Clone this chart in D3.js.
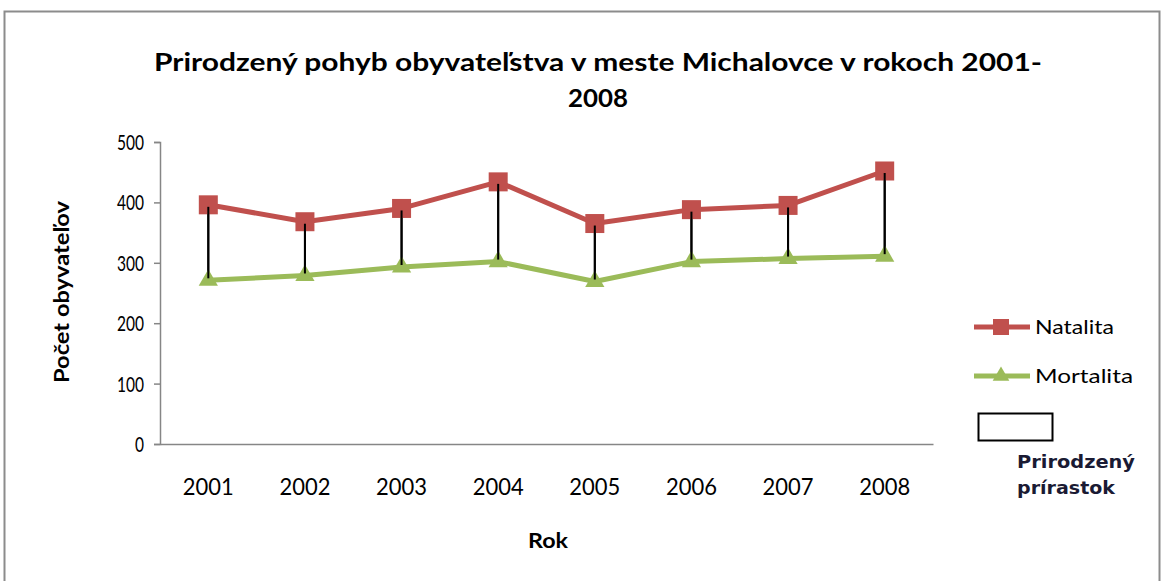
<!DOCTYPE html>
<html>
<head>
<meta charset="utf-8">
<script src="https://cdn.jsdelivr.net/npm/d3@7"></script>
<style>
  html, body { margin: 0; padding: 0; background: #fff; }
  svg { display: block; }
</style>
</head>
<body>
<svg id="chart" width="1162" height="581"></svg>
<script>
// Data
const years = ["2001", "2002", "2003", "2004", "2005", "2006", "2007", "2008"];
const natalita = [396, 368, 390, 434, 365, 388, 395, 452];
const mortalita = [271, 279, 293, 302, 269, 302, 307, 311];
const yTicks = [0, 100, 200, 300, 400, 500];

const titleLines = ["Prirodzený pohyb obyvateľstva v meste Michalovce v rokoch 2001-", "2008"];
const xTitle = "Rok";
const yTitle = "Počet obyvateľov";
const seriesNames = ["Natalita", "Mortalita"];
const diffLabel = ["Prirodzený", "prírastok"];

const red = "#C0504D", green = "#9BBB59";
const font = "Lato, 'Open Sans', sans-serif";
const boldFont = "'DejaVu Sans', Verdana, sans-serif";

const svg = d3.select("#chart");

// outer chart frame
svg.append("rect").attr("x", 4.5).attr("y", 11.5).attr("width", 1155).attr("height", 580)
  .attr("fill", "#fff").attr("stroke", "#8c8c8c").attr("stroke-width", 2);

const plot = { left: 160, right: 933, top: 142, bottom: 444 };

const x = d3.scaleBand().domain(years).range([plot.left, plot.right]);
const y = d3.scaleLinear().domain([0, 500]).range([plot.bottom, plot.top]);
const cx = d => x(d) + x.bandwidth() / 2;

// title
svg.append("text").attr("x", 598).attr("y", 71).attr("text-anchor", "middle")
  .attr("font-family", font).attr("font-weight", "bold").attr("font-size", 25)
  .attr("textLength", 888).attr("lengthAdjust", "spacingAndGlyphs")
  .attr("fill", "#000").text(titleLines[0]);
svg.append("text").attr("x", 598).attr("y", 107).attr("text-anchor", "middle")
  .attr("font-family", font).attr("font-weight", "bold").attr("font-size", 25)
  .attr("textLength", 60).attr("lengthAdjust", "spacingAndGlyphs")
  .attr("fill", "#000").text(titleLines[1]);

// y axis
const yAxis = svg.append("g").attr("transform", `translate(${plot.left},0)`)
  .call(d3.axisLeft(y).tickValues(yTicks).tickSize(6).tickPadding(10));
yAxis.select(".domain").attr("stroke", "#868686").attr("stroke-width", 1.5);
yAxis.selectAll(".tick line").attr("stroke", "#868686").attr("stroke-width", 1.5);
yAxis.selectAll(".tick text")
  .style("font-family", font).style("font-size", "21px").attr("fill", "#000")
  .attr("dy", "0.36em")
  .attr("textLength", d => String(d).length * 9).attr("lengthAdjust", "spacingAndGlyphs");

// x axis
const xAxis = svg.append("g").attr("transform", `translate(0,${plot.bottom})`)
  .call(d3.axisBottom(x).tickSize(0).tickPadding(35));
xAxis.select(".domain").attr("stroke", "#868686").attr("stroke-width", 1.5);
xAxis.selectAll(".tick text")
  .style("font-family", font).style("font-size", "23px").attr("fill", "#000")
  .attr("textLength", 51).attr("lengthAdjust", "spacingAndGlyphs");

// axis titles
svg.append("text").attr("x", 548).attr("y", 548).attr("text-anchor", "middle")
  .attr("font-family", font).attr("font-weight", "bold").attr("font-size", 21)
  .attr("textLength", 40).attr("lengthAdjust", "spacingAndGlyphs").text(xTitle);
svg.append("text").attr("transform", "translate(69,292) rotate(-90)").attr("text-anchor", "middle")
  .attr("font-family", font).attr("font-weight", "bold").attr("font-size", 20)
  .attr("textLength", 182).attr("lengthAdjust", "spacingAndGlyphs").text(yTitle);

// high-low lines (natural increase)
svg.append("g").selectAll("line").data(years).join("line")
  .attr("x1", d => cx(d)).attr("x2", d => cx(d))
  .attr("y1", (d, i) => y(natalita[i])).attr("y2", (d, i) => y(mortalita[i]))
  .attr("stroke", "#000").attr("stroke-width", 2);

const line = d3.line().x((d, i) => cx(years[i])).y(d => y(d));

// Mortalita
svg.append("path").datum(mortalita).attr("d", line).attr("fill", "none")
  .attr("stroke", green).attr("stroke-width", 5).attr("stroke-linejoin", "round");
const tri = d3.symbol().type(d3.symbolTriangle).size(160);
svg.append("g").selectAll("path").data(mortalita).join("path")
  .attr("d", tri).attr("transform", (d, i) => `translate(${cx(years[i])},${y(d)})`)
  .attr("fill", green);

// Natalita
svg.append("path").datum(natalita).attr("d", line).attr("fill", "none")
  .attr("stroke", red).attr("stroke-width", 5).attr("stroke-linejoin", "round");
svg.append("g").selectAll("rect").data(natalita).join("rect")
  .attr("x", (d, i) => cx(years[i]) - 9.5).attr("y", d => y(d) - 9.5)
  .attr("width", 19).attr("height", 19).attr("fill", red);

// drop lines drawn again over the markers
svg.append("g").selectAll("line").data(years).join("line")
  .attr("x1", d => cx(d)).attr("x2", d => cx(d))
  .attr("y1", (d, i) => y(natalita[i]) + 2).attr("y2", (d, i) => y(mortalita[i]) - 2)
  .attr("stroke", "#000").attr("stroke-width", 2);

// legend
const lg = svg.append("g");
const legendRows = [
  { name: seriesNames[0], color: red, y: 327, marker: "square", w: 79 },
  { name: seriesNames[1], color: green, y: 376, marker: "triangle", w: 98 }
];
legendRows.forEach(r => {
  lg.append("line").attr("x1", 974).attr("x2", 1030).attr("y1", r.y).attr("y2", r.y)
    .attr("stroke", r.color).attr("stroke-width", 5);
  if (r.marker === "square") {
    lg.append("rect").attr("x", 993).attr("y", r.y - 8).attr("width", 16).attr("height", 16).attr("fill", r.color);
  } else {
    lg.append("path").attr("d", d3.symbol().type(d3.symbolTriangle).size(120))
      .attr("transform", `translate(1001,${r.y})`).attr("fill", r.color);
  }
  lg.append("text").attr("x", 1035).attr("y", r.y + 7).attr("font-family", font)
    .attr("font-size", 19).attr("fill", "#000")
    .attr("textLength", r.w).attr("lengthAdjust", "spacingAndGlyphs").text(r.name);
});
lg.append("rect").attr("x", 978.5).attr("y", 413.5).attr("width", 74).attr("height", 27)
  .attr("fill", "#fff").attr("stroke", "#000").attr("stroke-width", 2);
lg.append("text").attr("x", 1017).attr("y", 468).attr("font-family", boldFont)
  .attr("font-weight", "bold").attr("font-size", 18).attr("fill", "#1a1a33")
  .attr("textLength", 118).attr("lengthAdjust", "spacingAndGlyphs").text(diffLabel[0]);
lg.append("text").attr("x", 1017).attr("y", 494).attr("font-family", boldFont)
  .attr("font-weight", "bold").attr("font-size", 18).attr("fill", "#1a1a33")
  .attr("textLength", 98).attr("lengthAdjust", "spacingAndGlyphs").text(diffLabel[1]);
</script>
</body>
</html>
